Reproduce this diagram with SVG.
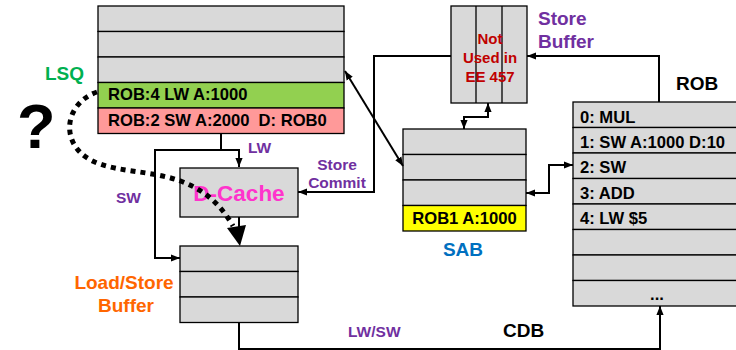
<svg xmlns="http://www.w3.org/2000/svg" width="736" height="350" viewBox="0 0 736 350">
<style>
text{font-family:"Liberation Sans",Arial,sans-serif;font-weight:bold}
.box{fill:#D9D9D9;stroke:#000;stroke-width:1.3}
.row{font-size:16.6px;fill:#000}
.lbl{font-size:19px}
.pur{fill:#7030A0;font-size:15.5px}
.con{fill:none;stroke:#000;stroke-width:2}
</style>
<defs>
<marker id="a" viewBox="0 0 10 8" refX="10" refY="4" markerWidth="9" markerHeight="8" markerUnits="userSpaceOnUse" orient="auto-start-reverse">
<path d="M0,0 L10,4 L0,8 z" fill="#000"/>
</marker>
</defs>
<rect width="736" height="350" fill="#fff"/>

<g id="lsq">
<rect class="box" x="98" y="6" width="246" height="25.5"/>
<rect class="box" x="98" y="31.5" width="246" height="25.5"/>
<rect class="box" x="98" y="57" width="246" height="25.5"/>
<rect x="98" y="82.5" width="246" height="25.5" fill="#92D050" stroke="#000" stroke-width="1.3"/>
<rect x="98" y="108" width="246" height="25.5" fill="#FF9999" stroke="#000" stroke-width="1.3"/>
<text class="row" x="108" y="100">ROB:4 LW A:1000</text>
<text class="row" x="108" y="126" xml:space="preserve">ROB:2 SW A:2000  D: ROB0</text>
<text class="lbl" x="45" y="80" fill="#00B050" font-size="18">LSQ</text>
</g>

<g id="question">
<text x="17" y="148" font-size="63" fill="#000">?</text>
</g>

<g id="dcache">
<rect class="box" x="180" y="168" width="118" height="49"/>
<text x="239" y="201" font-size="22.5" fill="#FF33CC" text-anchor="middle">D-Cache</text>
</g>

<g id="lsb">
<rect class="box" x="180" y="246" width="118" height="25.5"/>
<rect class="box" x="180" y="271.5" width="118" height="25.5"/>
<rect class="box" x="180" y="297" width="118" height="25.5"/>
<text class="lbl" x="124" y="289" fill="#FF6600" text-anchor="middle">Load/Store</text>
<text class="lbl" x="126" y="312" fill="#FF6600" text-anchor="middle">Buffer</text>
</g>

<g id="storebuffer">
<rect class="box" x="451" y="6" width="76" height="97"/>
<line x1="476" y1="6" x2="476" y2="103" stroke="#000" stroke-width="1.3"/>
<line x1="502" y1="6" x2="502" y2="103" stroke="#000" stroke-width="1.3"/>
<g fill="#C00000" font-size="15" text-anchor="middle">
<text x="490" y="44">Not</text>
<text x="490" y="63">Used in</text>
<text x="490" y="82">EE 457</text>
</g>
<text class="lbl" x="538" y="25" fill="#7030A0">Store</text>
<text class="lbl" x="538" y="48" fill="#7030A0">Buffer</text>
</g>

<g id="sab">
<rect class="box" x="403" y="129" width="123" height="25.5"/>
<rect class="box" x="403" y="154.5" width="123" height="25.5"/>
<rect class="box" x="403" y="180" width="123" height="25.5"/>
<rect x="403" y="205.5" width="123" height="25.5" fill="#FFFF00" stroke="#000" stroke-width="1.3"/>
<text class="row" x="464.5" y="224" text-anchor="middle">ROB1 A:1000</text>
<text class="lbl" x="463" y="256" fill="#0070C0" text-anchor="middle">SAB</text>
</g>

<g id="rob">
<rect class="box" x="573" y="102" width="170" height="25.5"/>
<rect class="box" x="573" y="127.5" width="170" height="25.5"/>
<rect class="box" x="573" y="153" width="170" height="25.5"/>
<rect class="box" x="573" y="178.5" width="170" height="25.5"/>
<rect class="box" x="573" y="204" width="170" height="25.5"/>
<rect class="box" x="573" y="229.5" width="170" height="25.5"/>
<rect class="box" x="573" y="255" width="170" height="25.5"/>
<rect class="box" x="573" y="280.5" width="170" height="25.5"/>
<text class="row" x="580" y="123">0: MUL</text>
<text class="row" x="580" y="148">1: SW A:1000 D:10</text>
<text class="row" x="580" y="173">2: SW</text>
<text class="row" x="580" y="199">3: ADD</text>
<text class="row" x="580" y="224">4: LW $5</text>
<text class="row" x="657" y="300" text-anchor="middle">...</text>
<text class="lbl" x="676" y="90" fill="#000">ROB</text>
</g>

<g id="connectors">
<path class="con" d="M221,133 V150 H239 V167" marker-end="url(#a)"/>
<path class="con" d="M221,150 H155 V258 H180" marker-end="url(#a)"/>
<path class="con" d="M451,56 H374 V192 H298" marker-end="url(#a)"/>
<path class="con" d="M239,217 V238"/>
<path class="con" d="M239,323 V349 H660 V306" marker-end="url(#a)"/>
<path class="con" d="M659,102 V56 H527" marker-end="url(#a)"/>
<path class="con" d="M464,129 V117 H488 V103" marker-start="url(#a)" marker-end="url(#a)"/>
<path class="con" d="M345,71 L403,166" marker-start="url(#a)" marker-end="url(#a)"/>
<path class="con" d="M526,193 H549 V165 H573" marker-start="url(#a)" marker-end="url(#a)"/>
<path d="M97,92 C62,104 58,150 100,164 C140,178 198,165 233,226" fill="none" stroke="#000" stroke-width="5" stroke-dasharray="5 5"/>
<polygon points="227,228 246,225 240,246" fill="#000"/>
<text class="pur" x="248" y="153" font-size="15">LW</text>
<text class="pur" x="116" y="203" font-size="15">SW</text>
<text class="pur" x="337" y="170" text-anchor="middle">Store</text>
<text class="pur" x="337" y="188" text-anchor="middle">Commit</text>
<text class="pur" x="348" y="337">LW/SW</text>
<text class="lbl" x="503" y="337" fill="#000">CDB</text>
</g>
</svg>
